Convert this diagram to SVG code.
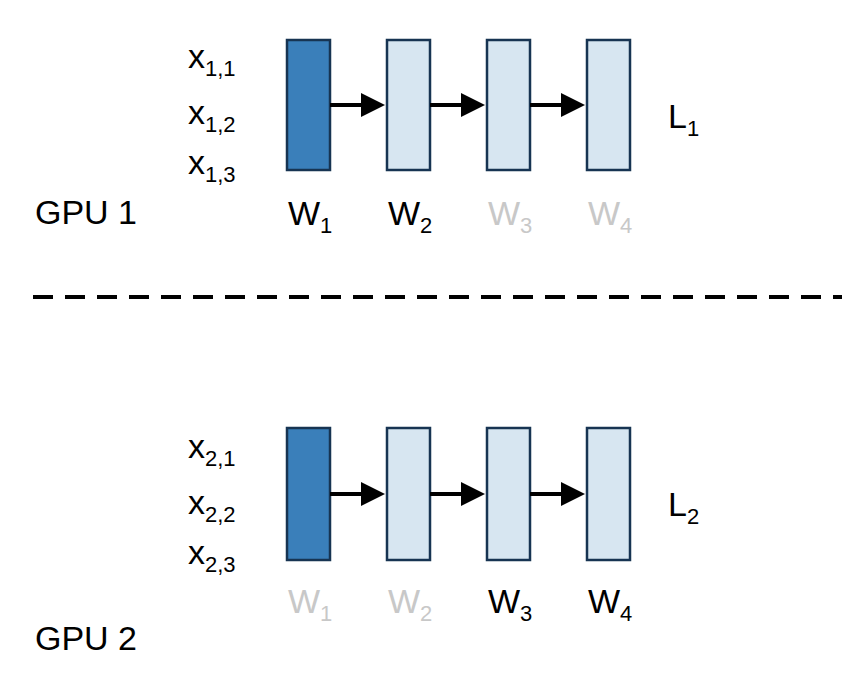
<svg xmlns="http://www.w3.org/2000/svg" width="862" height="678" viewBox="0 0 862 678">
<defs>
<style>
text{font-family:"Liberation Sans",Arial,sans-serif;font-size:34px;fill:#000}
.s{font-size:22px}
.g{fill:#c8c8c8}
.dk{fill:#3a7fba;stroke:#173452;stroke-width:2.5}
.lt{fill:#d7e6f1;stroke:#173452;stroke-width:2.5}
.ar{stroke:#000;stroke-width:4;marker-end:url(#ah)}
</style>
<marker id="ah" markerWidth="6" markerHeight="6" refX="5" refY="3" orient="auto" markerUnits="strokeWidth"><path d="M0,0 L6,3 L0,6 z" fill="#000"/></marker>
</defs>
<rect width="862" height="678" fill="#fff"/>
<g id="gpu1">
<text x="35" y="224">GPU 1</text>
<text x="188" y="68">x<tspan class="s" dy="8">1,1</tspan></text>
<text x="188" y="124">x<tspan class="s" dy="8">1,2</tspan></text>
<text x="188" y="174">x<tspan class="s" dy="8">1,3</tspan></text>
<text x="668" y="128">L<tspan class="s" dy="8">1</tspan></text>
</g>
<g id="n1w1"><rect class="dk" x="287" y="40" width="43" height="130"/><text x="288" y="225">W<tspan class="s" dy="8">1</tspan></text></g>
<g id="n1w2"><rect class="lt" x="387" y="40" width="43" height="130"/><text x="388" y="225">W<tspan class="s" dy="8">2</tspan></text></g>
<g id="n1w3"><rect class="lt" x="487" y="40" width="43" height="130"/><text class="g" x="488" y="225">W<tspan class="s g" dy="8">3</tspan></text></g>
<g id="n1w4"><rect class="lt" x="587" y="40" width="43" height="130"/><text class="g" x="588" y="225">W<tspan class="s g" dy="8">4</tspan></text></g>
<g id="gpu2">
<text x="35" y="650">GPU 2</text>
<text x="188" y="458">x<tspan class="s" dy="8">2,1</tspan></text>
<text x="188" y="514">x<tspan class="s" dy="8">2,2</tspan></text>
<text x="188" y="564">x<tspan class="s" dy="8">2,3</tspan></text>
<text x="668" y="516">L<tspan class="s" dy="8">2</tspan></text>
</g>
<g id="n2w1"><rect class="dk" x="287" y="428" width="43" height="132"/><text class="g" x="288" y="613">W<tspan class="s g" dy="8">1</tspan></text></g>
<g id="n2w2"><rect class="lt" x="387" y="428" width="43" height="132"/><text class="g" x="388" y="613">W<tspan class="s g" dy="8">2</tspan></text></g>
<g id="n2w3"><rect class="lt" x="487" y="428" width="43" height="132"/><text x="488" y="613">W<tspan class="s" dy="8">3</tspan></text></g>
<g id="n2w4"><rect class="lt" x="587" y="428" width="43" height="132"/><text x="588" y="613">W<tspan class="s" dy="8">4</tspan></text></g>
<g id="connectors">
<line x1="33" y1="297" x2="842" y2="297" stroke="#000" stroke-width="4" stroke-dasharray="20,12"/>
<line class="ar" x1="330" y1="105" x2="381" y2="105"/>
<line class="ar" x1="430" y1="105" x2="481" y2="105"/>
<line class="ar" x1="530" y1="105" x2="581" y2="105"/>
<line class="ar" x1="330" y1="494" x2="381" y2="494"/>
<line class="ar" x1="430" y1="494" x2="481" y2="494"/>
<line class="ar" x1="530" y1="494" x2="581" y2="494"/>
</g>
</svg>
